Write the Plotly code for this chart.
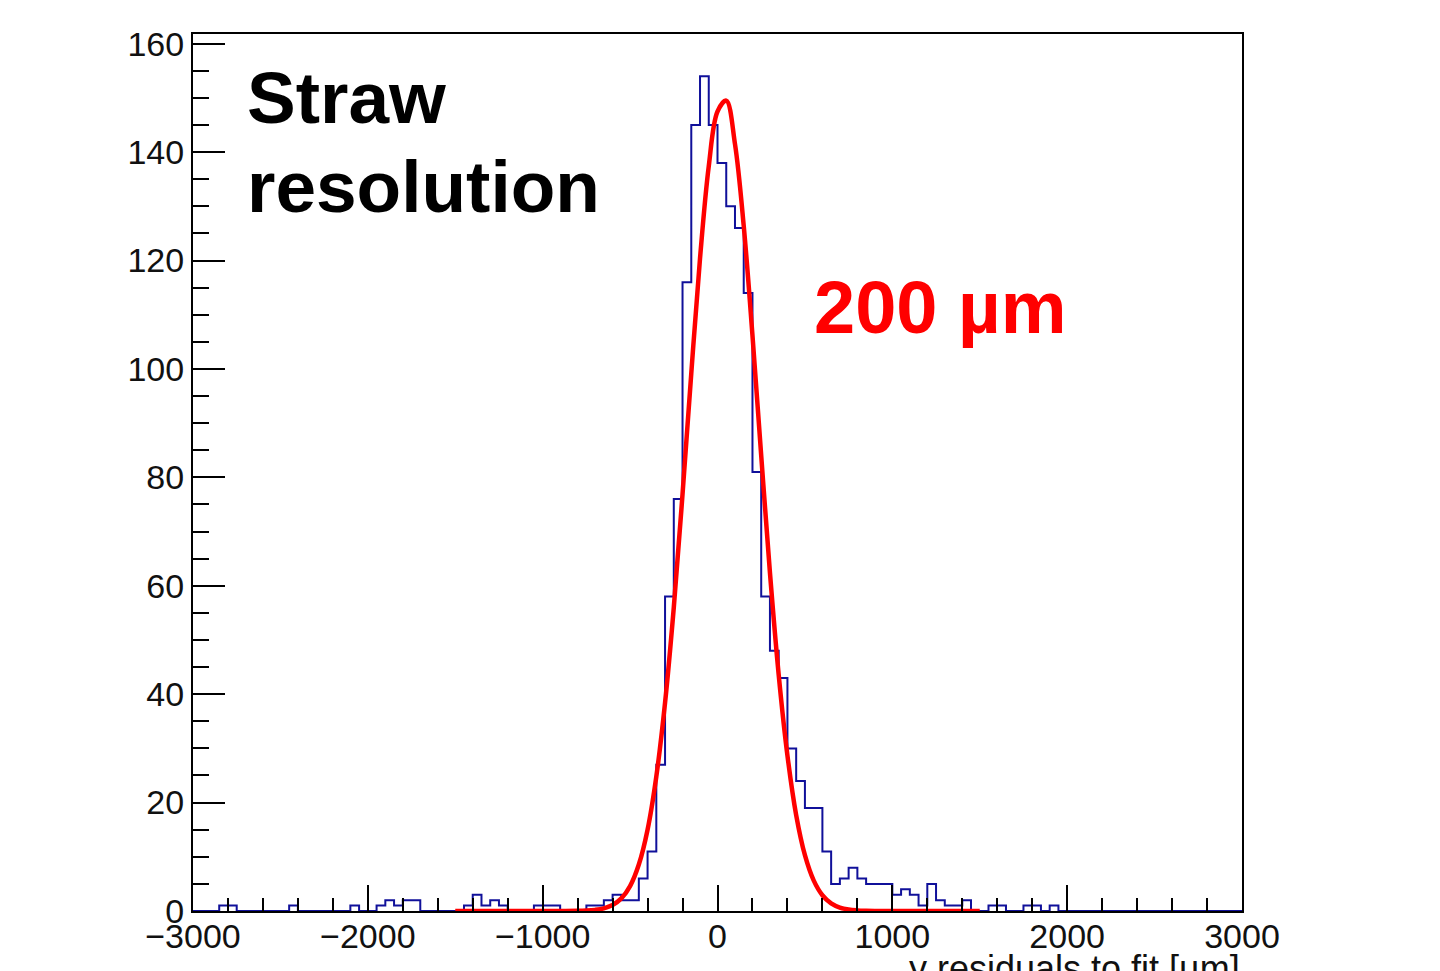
import plotly.graph_objects as go

# ---------------- data ----------------
bin_start = -3000
bin_width = 50
# counts per 50 um bin, from -3000 to +3000 (120 bins)
counts = [
    0, 0, 0, 1, 1, 0, 0, 0, 0, 0,        # -3000 .. -2550
    0, 1, 0, 0, 0, 0, 0, 0, 1, 0,        # -2500 .. -2050
    0, 1, 2, 1, 2, 2, 0, 0, 0, 0,        # -2000 .. -1550
    0, 1, 3, 1, 2, 1, 0, 0, 0, 1,        # -1500 .. -1050
    1, 1, 0, 0, 0, 1, 1, 2, 3, 2,        # -1000 .. -550
    2, 6, 11, 27, 58, 76, 116, 145, 154, 145,   # -500 .. -50
    138, 130, 126, 114, 81, 58, 48, 43, 30, 24,  # 0 .. 450
    19, 19, 11, 5, 6, 8, 6, 5, 5, 5,     # 500 .. 950
    3, 4, 3, 1, 5, 2, 1, 1, 2, 0,        # 1000 .. 1450
    0, 1, 1, 0, 0, 1, 1, 0, 1, 0,        # 1500 .. 1950
    0, 0, 0, 0, 0, 0, 0, 0, 0, 0,        # 2000 .. 2450
    0, 0, 0, 0, 0, 0, 0, 0, 0, 0,        # 2500 .. 2950
]

# fitted curve (fit range -1500 .. 1500)
fit_x = [-1500, -1200, -1000, -900, -800, -750, -700, -650, -600, -550, -500,
         -450, -400, -350, -300, -250, -200, -150, -100, -50, 0,
         50, 100, 150, 200, 250, 300, 350, 400, 450, 500,
         550, 600, 650, 700, 750, 800, 850, 900, 1000, 1200, 1500]
fit_y = [0, 0, 0, 0.01, 0.03, 0.08, 0.21, 0.49, 1.10, 2.32, 4.60,
         8.57, 15.0, 24.8, 38.4, 56.0, 76.9, 99.2, 120.4, 137.4, 147.5,
         149.5, 141.5, 126.4, 106.2, 84.0, 62.4, 43.6, 28.7, 17.7, 10.3,
         5.65, 2.91, 1.41, 0.64, 0.27, 0.11, 0.04, 0.01, 0, 0, 0]

x_ticks = [-3000, -2000, -1000, 0, 1000, 2000, 3000]
y_ticks = [0, 20, 40, 60, 80, 100, 120, 140, 160]

# ---------------- figure ----------------
edges = [bin_start + i * bin_width for i in range(len(counts) + 1)]
hx = edges
hy = counts + [counts[-1]]

fig = go.Figure()
fig.add_trace(go.Scatter(
    x=hx, y=hy, mode="lines", line=dict(color="#10109a", width=2, shape="hv"),
    hoverinfo="skip", showlegend=False))
fig.add_trace(go.Scatter(
    x=fit_x, y=fit_y, mode="lines", line=dict(color="#ff0000", width=4.5, shape="spline"),
    hoverinfo="skip", showlegend=False))

tickfont = dict(family="Liberation Sans, Arial, sans-serif", size=34, color="#111")

fig.update_layout(
    width=1440, height=971,
    margin=dict(l=185, r=206, t=26, b=68),
    paper_bgcolor="white", plot_bgcolor="white",
    xaxis=dict(range=[-3000, 3000], tickvals=x_ticks, ticks="inside", ticklen=26,
               tickwidth=2, tickcolor="black", showline=True, linecolor="black",
               linewidth=2, mirror=True, showgrid=False, zeroline=False,
               tickfont=tickfont, ticklabelstandoff=-6,
               minor=dict(dtick=200, ticks="inside", ticklen=13, tickwidth=2,
                          tickcolor="black", showgrid=False)),
    yaxis=dict(range=[0, 161.8], tickvals=y_ticks, ticks="inside", ticklen=32,
               tickwidth=2, tickcolor="black", showline=True, linecolor="black",
               linewidth=2, mirror=True, showgrid=False, zeroline=False,
               tickfont=tickfont,
               minor=dict(dtick=5, ticks="inside", ticklen=16, tickwidth=2,
                          tickcolor="black", showgrid=False)),
)

bold = dict(family="Liberation Sans, Arial, sans-serif", size=73, color="black")
fig.add_annotation(text="<b>Straw</b>", xref="paper", yref="paper", x=0.0495, y=0.928,
                   xanchor="left", yanchor="middle", showarrow=False, font=bold)
fig.add_annotation(text="<b>resolution</b>", xref="paper", yref="paper", x=0.0495, y=0.8265,
                   xanchor="left", yanchor="middle", showarrow=False, font=bold)
fig.add_annotation(text="<b>200 µm</b>", xref="paper", yref="paper", x=0.5905, y=0.688,
                   xanchor="left", yanchor="middle", showarrow=False,
                   font=dict(family="Liberation Sans, Arial, sans-serif", size=74, color="#ff0000"))
fig.add_annotation(text="y residuals to fit [µm]", xref="paper", yref="paper", x=1.0, y=-0.040,
                   xanchor="right", yanchor="top", showarrow=False,
                   font=dict(family="Liberation Sans, Arial, sans-serif", size=36, color="#111"))

fig.write_html("out.html")
